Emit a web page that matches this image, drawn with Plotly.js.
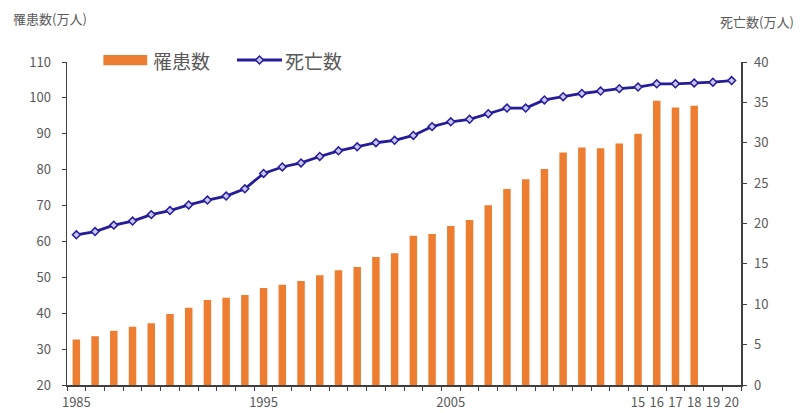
<!DOCTYPE html>
<html>
<head>
<meta charset="utf-8">
<script src="https://cdn.plot.ly/plotly-3.0.1.min.js"></script>
<style>html,body{margin:0;padding:0;background:#fff;}#chart{width:811px;height:413px;}</style>
</head>
<body>
<div id="chart"></div>
<script>
const years = [1985,1986,1987,1988,1989,1990,1991,1992,1993,1994,1995,1996,1997,1998,1999,2000,2001,2002,2003,2004,2005,2006,2007,2008,2009,2010,2011,2012,2013,2014,2015,2016,2017,2018,2019,2020];
const tickLabels = ["1985","","","","","","","","","","1995","","","","","","","","","","2005","","","","","","","","","","15","16","17","18","19","20"];
// 罹患数 (万人), 1985-2018
const incidence = [32.7,33.6,35.1,36.2,37.2,39.8,41.5,43.7,44.3,45.1,47.0,47.9,49.0,50.6,52.0,52.9,55.7,56.7,61.6,62.1,64.3,66.0,70.1,74.6,77.3,80.2,84.8,86.2,86.0,87.3,90.0,99.2,97.3,97.8,null,null];
// 死亡数 (万人), 1985-2020
const deaths = [18.6,19.0,19.8,20.3,21.1,21.6,22.3,22.9,23.4,24.3,26.2,27.0,27.5,28.3,29.0,29.5,30.0,30.3,30.9,32.0,32.6,32.9,33.6,34.3,34.3,35.3,35.7,36.1,36.4,36.7,36.9,37.3,37.3,37.4,37.5,37.7];
const seriesNames = ['罹患数','死亡数'];

const font = "'Noto Sans CJK JP', 'Noto Sans', sans-serif";
const grey = "#595959";
const axisCol = "#404040";
const barCol = '#ED7D31';
const lineCol = '#251C9A';
const markFill = '#C9C6F2';

const traces = [
  {type:'bar', name:seriesNames[0], x:years.map(String), y:incidence, marker:{color:barCol}, yaxis:'y'},
  {type:'scatter', mode:'lines+markers', name:seriesNames[1], x:years.map(String), y:deaths, yaxis:'y2',
   line:{color:lineCol, width:2.8},
   marker:{symbol:'diamond', size:6, color:markFill, line:{color:lineCol, width:1.5}}}
];

const legY = 1.006;
const layout = {
  width:811, height:413,
  margin:{l:67, r:70, t:62, b:28},
  paper_bgcolor:'#fff', plot_bgcolor:'#fff',
  font:{family:font, color:grey, size:13},
  bargap:0.6,
  showlegend:false,
  xaxis:{type:'category', range:[-0.5,35.5], tickmode:'array', tickvals:years.map(String), ticktext:tickLabels, tickson:'boundaries',
         ticks:'outside', ticklen:4, tickcolor:axisCol, showline:true, linecolor:axisCol, linewidth:1.5, ticklabelstandoff:5,
         showgrid:false, zeroline:false, tickangle:0, tickfont:{size:13, color:grey}, fixedrange:true},
  yaxis:{range:[20,110], dtick:10, ticks:'outside', ticklen:4, tickcolor:axisCol, showline:true, linecolor:axisCol, linewidth:1.5, ticklabelstandoff:8,
         showgrid:false, zeroline:false, tickfont:{size:13, color:grey}},
  yaxis2:{range:[0,40], dtick:5, overlaying:'y', side:'right', ticks:'outside', ticklen:4, tickcolor:axisCol, showline:true, linecolor:axisCol, linewidth:1.5, ticklabelstandoff:5,
          showgrid:false, zeroline:false, tickfont:{size:13, color:grey}},
  shapes:[
    {type:'rect', xref:'paper', yref:'paper', x0:0.054, x1:0.119, y0:0.99, y1:1.022, fillcolor:barCol, line:{width:0}},
    {type:'line', xref:'paper', yref:'paper', x0:0.2522, x1:0.319, y0:legY, y1:legY, line:{color:lineCol, width:3}},
    {type:'path', xref:'paper', yref:'paper', xsizemode:'pixel', ysizemode:'pixel', xanchor:0.2856, yanchor:legY,
     path:'M -4 0 L 0 4 L 4 0 L 0 -4 Z', fillcolor:markFill, line:{color:lineCol, width:1.5}}
  ],
  annotations:[
    {text:seriesNames[0], xref:'paper', yref:'paper', x:0.124, y:legY, xanchor:'left', yanchor:'middle', showarrow:false, font:{size:19, color:grey}},
    {text:seriesNames[1], xref:'paper', yref:'paper', x:0.321, y:legY, xanchor:'left', yanchor:'middle', showarrow:false, font:{size:19, color:grey}},
    {text:'罹患数(万人)', xref:'paper', yref:'paper', x:-0.083, y:1.136, xanchor:'left', yanchor:'middle', showarrow:false, font:{size:13, color:grey}},
    {text:'死亡数(万人)', xref:'paper', yref:'paper', x:1.082, y:1.124, xanchor:'right', yanchor:'middle', showarrow:false, font:{size:13, color:grey}}
  ]
};

Plotly.newPlot('chart', traces, layout, {displayModeBar:false, staticPlot:true});
</script>
</body>
</html>
